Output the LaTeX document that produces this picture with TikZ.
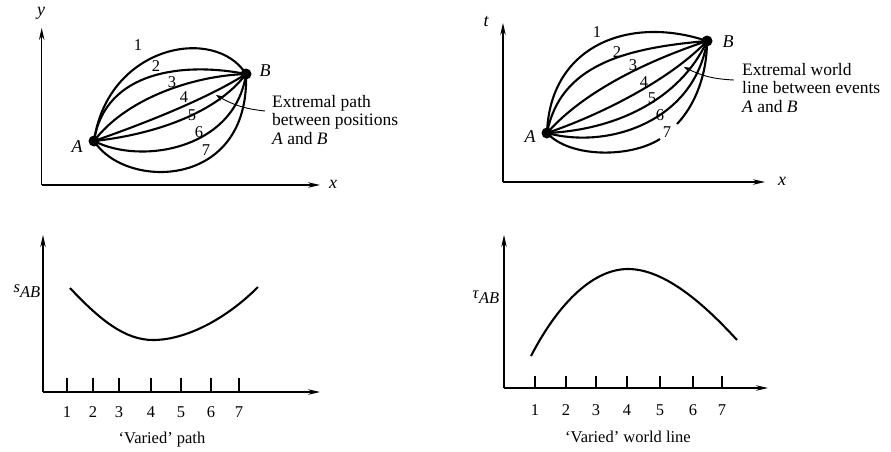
\documentclass[tikz,border=0pt]{standalone}
\usepackage{fontspec}
\setmainfont{Liberation Serif}
\usetikzlibrary{arrows.meta}
\begin{document}
\begin{tikzpicture}[x=1pt,y=-1pt,
  axis/.style={line width=1.2pt,-{Stealth[length=12pt,width=5.5pt]}},
  curve/.style={line width=2.1pt},
  dot/.style={circle,fill=black,inner sep=0pt,minimum size=11pt},
  lbl/.style={font=\fontsize{16.5}{18}\selectfont,inner sep=0pt},
  lbli/.style={font=\fontsize{18}{18}\selectfont\itshape,inner sep=0pt},
  txt/.style={font=\fontsize{17.5}{18.5}\selectfont,align=left,inner sep=0pt,anchor=north west},
  tickmark/.style={line width=1.1pt},
  pointer/.style={line width=0.9pt,-{Stealth[length=7pt,width=5pt]}},
]
\useasboundingbox (0,0) rectangle (891,451);

% ---------- top left ----------
\coordinate (o1) at (41.7,185);
\coordinate (y1) at (41.7,28);
\coordinate (x1) at (320,185);
\draw[axis] (o1) -- (y1);
\draw[axis] (o1) -- (x1);
\node[lbli] (ly1) at (41,13) {y};
\node[lbli] (lx1) at (333,184) {x};
\node[dot] (A1) at (94,141) {};
\node[dot] (B1) at (246,74) {};
\node[lbli] (lA1) at (77,147) {A};
\node[lbli] (lB1) at (265,71) {B};
\draw[curve] (A1.center) .. controls (108,45) and (215,25) .. (B1.center);
\draw[curve] (A1.center) .. controls (105,70) and (185,62) .. (B1.center);
\draw[curve] (A1.center) .. controls (125,100) and (190,76) .. (B1.center);
\draw[curve] (A1.center) .. controls (140,125) and (205,100) .. (B1.center);
\draw[curve] (A1.center) .. controls (150,135) and (215,115) .. (B1.center);
\draw[curve] (A1.center) .. controls (140,165) and (235,150) .. (B1.center);
\draw[curve] (A1.center) .. controls (125,190) and (250,190) .. (B1.center);
\node[lbl] (n11) at (138,45) {1};
\node[lbl] (n12) at (156,66) {2};
\node[lbl] (n13) at (172,82) {3};
\node[lbl] (n14) at (184,97) {4};
\node[lbl] (n15) at (192,115) {5};
\node[lbl] (n16) at (199,132) {6};
\node[lbl] (n17) at (206,150) {7};
\coordinate (p1s) at (265,111);
\coordinate (p1e) at (216,95);
\draw[pointer] (p1s) to[bend left=12] (p1e);
\node[txt] (t1) at (272,95) {Extremal path\\between positions\\\textit{A} and \textit{B}};

% ---------- top right ----------
\coordinate (o2) at (503,182);
\coordinate (y2) at (503,23);
\coordinate (x2) at (765,182);
\draw[axis] (o2) -- (y2);
\draw[axis] (o2) -- (x2);
\node[lbli] (ly2) at (486,22) {t};
\node[lbli] (lx2) at (782,181) {x};
\node[dot] (A2) at (547,133) {};
\node[dot] (B2) at (707,41) {};
\node[lbli] (lA2) at (530,137) {A};
\node[lbli] (lB2) at (728,42) {B};
\draw[curve] (A2.center) .. controls (550,45) and (630,15) .. (B2.center);
\draw[curve] (A2.center) .. controls (560,65) and (625,48) .. (B2.center);
\draw[curve] (A2.center) .. controls (585,90) and (650,60) .. (B2.center);
\draw[curve] (A2.center) .. controls (600,115) and (670,80) .. (B2.center);
\draw[curve] (A2.center) .. controls (615,130) and (680,100) .. (B2.center);
\draw[curve] (A2.center) .. controls (610,150) and (695,120) .. (B2.center);
\coordinate (c7a) at (660,139);
\coordinate (c7b) at (677,124);
\draw[curve] (A2.center) .. controls (570,158) and (630,158) .. (c7a);
\draw[curve] (c7b) .. controls (695,105) and (707,75) .. (B2.center);
\node[lbl] (n21) at (597,32) {1};
\node[lbl] (n22) at (617,52) {2};
\node[lbl] (n23) at (633,65) {3};
\node[lbl] (n24) at (644,82) {4};
\node[lbl] (n25) at (652,98) {5};
\node[lbl] (n26) at (660,115) {6};
\node[lbl] (n27) at (667,132) {7};
\coordinate (p2s) at (734,80);
\coordinate (p2e) at (684,67);
\draw[pointer] (p2s) to[bend left=12] (p2e);
\node[txt] (t2) at (742,63) {Extremal world\\line between events\\\textit{A} and \textit{B}};

% ---------- bottom left ----------
\coordinate (o3) at (43,392);
\coordinate (y3) at (43,235);
\coordinate (x3) at (320,392);
\draw[axis] (o3) -- (y3);
\draw[axis] (o3) -- (x3);
\node[lbl] (s3) at (27,291) {\textit{s}\raisebox{-5pt}{\textit{AB}}};
\coordinate (c3a) at (70,288);
\coordinate (c3m) at (153,340);
\coordinate (c3b) at (258,287);
\draw[curve] (c3a) .. controls (100,320) and (125,340) .. (c3m) .. controls (185,340) and (225,320) .. (c3b);
\foreach \xx [count=\i] in {67,93,119,151,181,211,239}{
  \coordinate (bt\i) at (\xx,392);
  \coordinate (tt\i) at (\xx,378);
  \draw[tickmark] (bt\i) -- (tt\i);
  \node[lbl] (m3\i) at (\xx,412) {\i};
}
\node[lbl] (cap3) at (162,440) {`Varied' path};

% ---------- bottom right ----------
\coordinate (o4) at (504,388);
\coordinate (y4) at (504,235);
\coordinate (x4) at (768,388);
\draw[axis] (o4) -- (y4);
\draw[axis] (o4) -- (x4);
\node[lbl] (s4) at (486,297) {\textit{τ}\raisebox{-5pt}{\textit{AB}}};
\coordinate (c4a) at (531,356);
\coordinate (c4m) at (628,269);
\coordinate (c4b) at (737,340);
\draw[curve] (c4a) .. controls (560,300) and (595,269) .. (c4m) .. controls (665,269) and (705,305) .. (c4b);
\foreach \xx [count=\i] in {535,566,596,627,660,693,722}{
  \coordinate (bu\i) at (\xx,388);
  \coordinate (tu\i) at (\xx,376);
  \draw[tickmark] (bu\i) -- (tu\i);
  \node[lbl] (m4\i) at (\xx,410) {\i};
}
\node[lbl] (cap4) at (628,437) {`Varied' world line};
\end{tikzpicture}
\end{document}
